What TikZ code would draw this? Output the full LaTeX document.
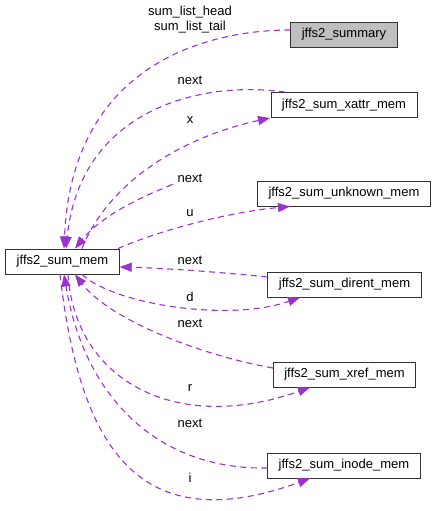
\documentclass[tikz,border=0pt]{standalone}
\usepackage{fontspec}
\setmainfont{Liberation Sans}
\usetikzlibrary{arrows.meta}
\definecolor{usecol}{HTML}{9A32CD}
\tikzset{
 classbox/.style={draw=black!80,line width=0.9pt,align=center,minimum height=25pt,
             inner xsep=11pt,font=\fontsize{13}{15}\selectfont},
 rootbox/.style={classbox,fill=black!25},
 usage/.style={-{Triangle[length=12pt,width=9pt]},draw=usecol,line width=1.1pt,
             dash pattern=on 6pt off 4.5pt},
 elabel/.style={font=\fontsize{13}{14.5}\selectfont,align=center,inner sep=0pt}
}
\begin{document}
\begin{tikzpicture}[x=1pt,y=-1pt]
\useasboundingbox (0,0) rectangle (437,511);
\node[rootbox] (summary) at (344,34.5) {jffs2\_summary};
\node[classbox] (xattr) at (344,105) {jffs2\_sum\_xattr\_mem};
\node[classbox] (unknown) at (344,193.5) {jffs2\_sum\_unknown\_mem};
\node[classbox] (summem) at (62.5,261.5) {jffs2\_sum\_mem};
\node[classbox] (dirent) at (344.5,284.5) {jffs2\_sum\_dirent\_mem};
\node[classbox] (xref) at (344.5,374.5) {jffs2\_sum\_xref\_mem};
\node[classbox] (inode) at (344,465.5) {jffs2\_sum\_inode\_mem};
% edge labels
\node[elabel] (lhead) at (190,19.5) {sum\_list\_head\\sum\_list\_tail};
\node[elabel] (lnext1) at (190,80) {next};
\node[elabel] (lx) at (190,120) {x};
\node[elabel] (lnext2) at (190,178) {next};
\node[elabel] (lu) at (190,213) {u};
\node[elabel] (lnext3) at (190,260) {next};
\node[elabel] (ld) at (190,297) {d};
\node[elabel] (lnext4) at (190,323) {next};
\node[elabel] (lr) at (190,388) {r};
\node[elabel] (lnext5) at (190,423) {next};
\node[elabel] (li) at (190,478) {i};
% connectors
\draw[usage] ([yshift=4.5pt]summary.west) .. controls (210,30) and (72,62) .. ([xshift=1.5pt]summem.north);
\draw[usage] ([xshift=-59pt]xattr.north) .. controls (200,80) and (80,110) .. ([xshift=3.5pt]summem.north);
\draw[usage] ([xshift=19.5pt]summem.north) .. controls (105,190) and (170,140) .. ([xshift=-74pt]xattr.south);
\draw[usage] ([xshift=-87pt,yshift=8.5pt]unknown.west) .. controls (180,183) and (110,205) .. ([xshift=12.5pt]summem.north);
\draw[usage] ([xshift=55.5pt]summem.north) .. controls (160,230) and (230,212) .. ([xshift=-54pt]unknown.south);
\draw[usage] ([yshift=7.5pt]dirent.west) .. controls (220,272) and (160,268) .. ([yshift=-5.5pt]summem.east);
\draw[usage] ([xshift=19.5pt]summem.south) .. controls (115,305) and (230,322) .. ([xshift=-44.5pt]dirent.south);
\draw[usage] ([yshift=6.5pt]xref.west) .. controls (200,355) and (110,320) .. ([xshift=12.5pt]summem.south);
\draw[usage] ([xshift=5.5pt]summem.south) .. controls (75,380) and (175,435) .. ([xshift=-34.5pt]xref.south);
\draw[usage] ([yshift=-2.5pt]inode.west) .. controls (160,470) and (85,400) .. ([xshift=1.5pt]summem.south);
\draw[usage] ([xshift=-2.5pt]summem.south) .. controls (80,450) and (140,540) .. ([xshift=-34pt]inode.south);
\end{tikzpicture}
\end{document}
